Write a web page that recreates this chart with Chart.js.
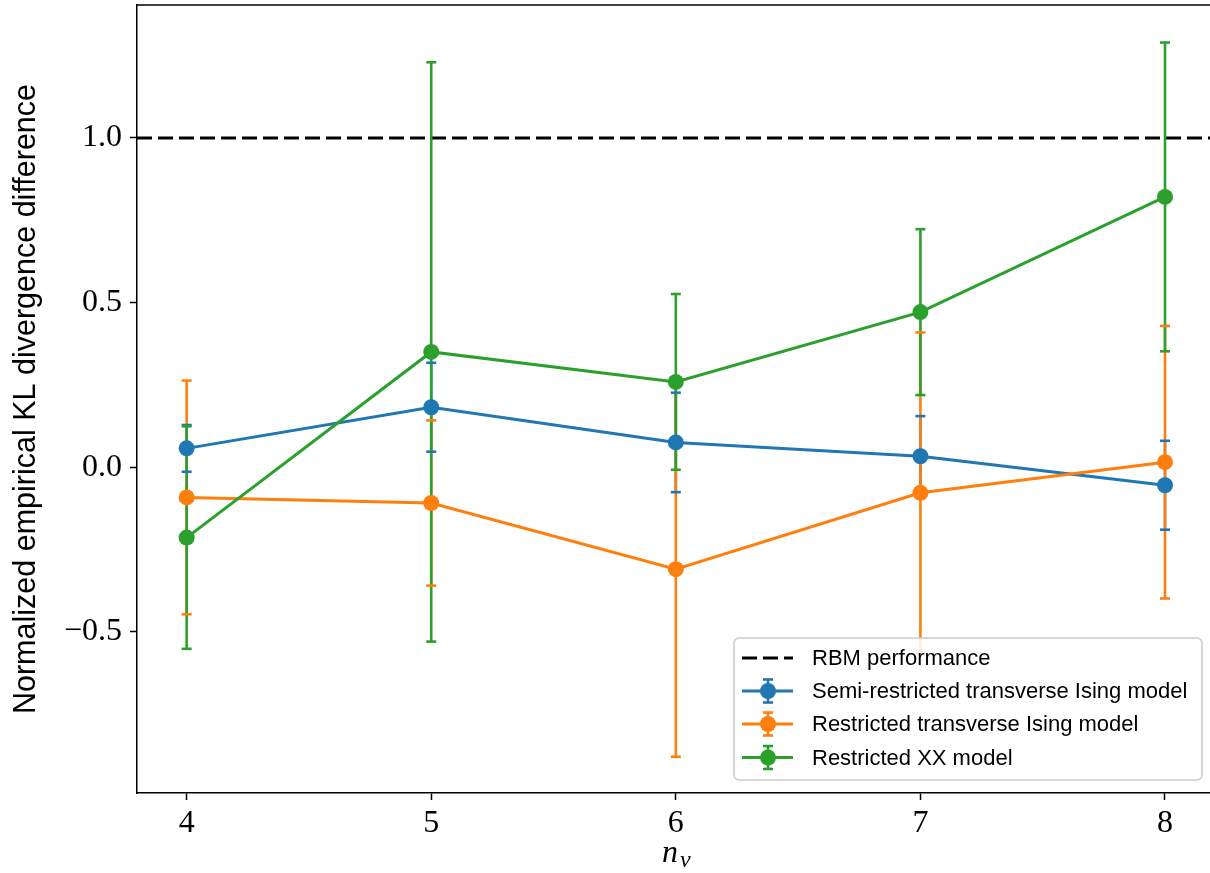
<!DOCTYPE html>
<html><head><meta charset="utf-8">
<script src="https://cdn.jsdelivr.net/npm/chart.js@4"></script>
<style>html,body{margin:0;padding:0;background:#fff;overflow:hidden}#wrap{width:1210px;height:873px;position:relative}</style>
</head><body><div id="wrap"><canvas id="c" width="1210" height="873"></canvas></div>
<script>
const nv = [4, 5, 6, 7, 8];
const xTicks = [4, 5, 6, 7, 8];
const yTicks = [-0.5, 0.0, 0.5, 1.0];
const rbmLevel = 1.0;
const semiVals = [0.057, 0.182, 0.075, 0.033, -0.055];
const semiErr = [0.071, 0.135, 0.151, 0.122, 0.135];
const restrVals = [-0.092, -0.109, -0.310, -0.078, 0.015];
const restrErr = [0.355, 0.251, 0.570, 0.487, 0.414];
const xxVals = [-0.214, 0.350, 0.259, 0.471, 0.821];
const xxErr = [0.338, 0.880, 0.267, 0.252, 0.469];
const seriesLabels = ['RBM performance', 'Semi-restricted transverse Ising model', 'Restricted transverse Ising model', 'Restricted XX model'];
const seriesColors = ['#000000', '#1f77b4', '#ff7f0e', '#2ca02c'];
const yTitle = 'Normalized empirical KL divergence difference';
const xMin = 3.797, xMax = 8.184, yMin = -0.99, yMax = 1.404;

const errSeries = [
  {vals: semiVals, err: semiErr, color: seriesColors[1]},
  {vals: restrVals, err: restrErr, color: seriesColors[2]},
  {vals: xxVals, err: xxErr, color: seriesColors[3]}
];

function pts(vals){ return nv.map((n,i)=>({x:n, y:vals[i]})); }

function drawErrorBars(chart){
  const {ctx, chartArea:a, scales:{x, y}} = chart;
  ctx.save();
  ctx.beginPath(); ctx.rect(a.left, a.top, a.right-a.left, a.bottom-a.top); ctx.clip();
  ctx.lineWidth = 2.6; ctx.lineCap = 'butt';
  errSeries.forEach(s=>{
    ctx.strokeStyle = s.color;
    nv.forEach((n,i)=>{
      const px = x.getPixelForValue(n);
      ctx.beginPath();
      ctx.moveTo(px, y.getPixelForValue(s.vals[i]-s.err[i]));
      ctx.lineTo(px, y.getPixelForValue(s.vals[i]+s.err[i]));
      ctx.stroke();
    });
  });
  errSeries.forEach(s=>{
    ctx.strokeStyle = s.color;
    nv.forEach((n,i)=>{
      const px = x.getPixelForValue(n);
      [s.vals[i]-s.err[i], s.vals[i]+s.err[i]].forEach(v=>{
        const py = y.getPixelForValue(v);
        ctx.beginPath(); ctx.moveTo(px-5, py); ctx.lineTo(px+5, py); ctx.stroke();
      });
    });
  });
  ctx.restore();
}

const errPlugin = {
  id: 'errbars',
  beforeDatasetDraw(chart, args){ if (args.index === 1) drawErrorBars(chart); }
};

const framePlugin = {
  id: 'frame',
  afterDraw(chart){
    const {ctx, chartArea:a} = chart;
    ctx.save();
    ctx.strokeStyle = '#000'; ctx.lineWidth = 1.5;
    ctx.beginPath(); ctx.moveTo(a.left, a.top); ctx.lineTo(a.right, a.top); ctx.stroke();
    // x axis title n_v
    ctx.fillStyle = '#000'; ctx.textBaseline = 'alphabetic';
    ctx.font = 'italic 32px "Liberation Serif"';
    const nw = ctx.measureText('n').width;
    const nx = 662;
    ctx.fillText('n', nx, 862);
    ctx.font = 'italic 24px "Liberation Serif"';
    ctx.fillText('v', nx + nw + 2, 867);
    // legend
    const L = 734, T = 638, R = 1202, B = 780;
    ctx.fillStyle = 'rgba(255,255,255,0.85)';
    ctx.strokeStyle = '#cccccc'; ctx.lineWidth = 1.5;
    ctx.beginPath();
    if (ctx.roundRect) ctx.roundRect(L, T, R-L, B-T, 5); else ctx.rect(L, T, R-L, B-T);
    ctx.fill(); ctx.stroke();
    const rows = [658, 691, 724, 757.5];
    const hx0 = 742, hx1 = 793, hc = 768;
    ctx.font = '22px "Liberation Sans"';
    ctx.textBaseline = 'middle';
    rows.forEach((ry, k)=>{
      const col = seriesColors[k];
      ctx.strokeStyle = col; ctx.fillStyle = col;
      if (k === 0) {
        ctx.lineWidth = 3; ctx.setLineDash([15, 6]);
        ctx.beginPath(); ctx.moveTo(hx0, ry); ctx.lineTo(hx1, ry); ctx.stroke();
        ctx.setLineDash([]);
      } else {
        ctx.lineWidth = 2.6;
        ctx.beginPath(); ctx.moveTo(hc, ry-11.5); ctx.lineTo(hc, ry+11.5); ctx.stroke();
        ctx.beginPath(); ctx.moveTo(hc-5, ry-11.5); ctx.lineTo(hc+5, ry-11.5); ctx.stroke();
        ctx.beginPath(); ctx.moveTo(hc-5, ry+11.5); ctx.lineTo(hc+5, ry+11.5); ctx.stroke();
        ctx.lineWidth = 3;
        ctx.beginPath(); ctx.moveTo(hx0, ry); ctx.lineTo(hx1, ry); ctx.stroke();
        ctx.beginPath(); ctx.arc(hc, ry, 8, 0, Math.PI*2); ctx.fill();
      }
      ctx.fillStyle = '#000';
      ctx.fillText(seriesLabels[k], 812, ry + 1);
    });
    ctx.restore();
  }
};

const fmt = v => (Math.abs(v) < 1e-9 ? '0.0' : v.toFixed(1).replace('-', '\u2212'));

new Chart(document.getElementById('c'), {
  type: 'line',
  data: {
    datasets: [
      {label: seriesLabels[0], data: [{x:xMin, y:rbmLevel}, {x:xMax, y:rbmLevel}], borderColor: seriesColors[0], borderWidth: 3, borderDash: [15, 6], pointRadius: 0, order: 4},
      {label: seriesLabels[1], data: pts(semiVals), borderColor: seriesColors[1], backgroundColor: seriesColors[1], borderWidth: 3, pointRadius: 8, pointBorderWidth: 0, pointBackgroundColor: seriesColors[1], order: 3},
      {label: seriesLabels[2], data: pts(restrVals), borderColor: seriesColors[2], backgroundColor: seriesColors[2], borderWidth: 3, pointRadius: 8, pointBorderWidth: 0, pointBackgroundColor: seriesColors[2], order: 2},
      {label: seriesLabels[3], data: pts(xxVals), borderColor: seriesColors[3], backgroundColor: seriesColors[3], borderWidth: 3, pointRadius: 8, pointBorderWidth: 0, pointBackgroundColor: seriesColors[3], order: 1}
    ]
  },
  options: {
    responsive: false, animation: false, devicePixelRatio: 1,
    layout: {autoPadding: false, padding: {top: 5, left: 0, right: 0, bottom: 0}},
    plugins: {legend: {display: false}, tooltip: {enabled: false}},
    elements: {line: {tension: 0}},
    scales: {
      x: {
        type: 'linear', min: xMin, max: xMax,
        afterBuildTicks: s => { s.ticks = xTicks.map(v => ({value: v})); },
        afterFit: s => { s.height = 80; s.paddingLeft = 0; s.paddingRight = 0; },
        ticks: {color: '#000', font: {family: '"Liberation Serif"', size: 32}, padding: 4, maxRotation: 0, callback: v => String(v)},
        grid: {drawOnChartArea: false, drawTicks: true, tickLength: 7, tickColor: '#000', tickWidth: 1.5},
        border: {color: '#000', width: 1.5}
      },
      y: {
        type: 'linear', min: yMin, max: yMax,
        afterBuildTicks: s => { s.ticks = yTicks.map(v => ({value: v})); },
        afterFit: s => { s.width = 137; s.paddingTop = 0; s.paddingBottom = 0; },
        ticks: {color: '#000', font: {family: '"Liberation Serif"', size: 32}, padding: 8, callback: v => fmt(v)},
        grid: {drawOnChartArea: false, drawTicks: true, tickLength: 7, tickColor: '#000', tickWidth: 1.5},
        border: {color: '#000', width: 1.5},
        title: {display: true, text: yTitle, color: '#000', font: {family: '"Liberation Sans"', size: 30.5}, padding: {top: 8, bottom: 0}}
      }
    }
  },
  plugins: [errPlugin, framePlugin]
});
</script>
</body></html>
